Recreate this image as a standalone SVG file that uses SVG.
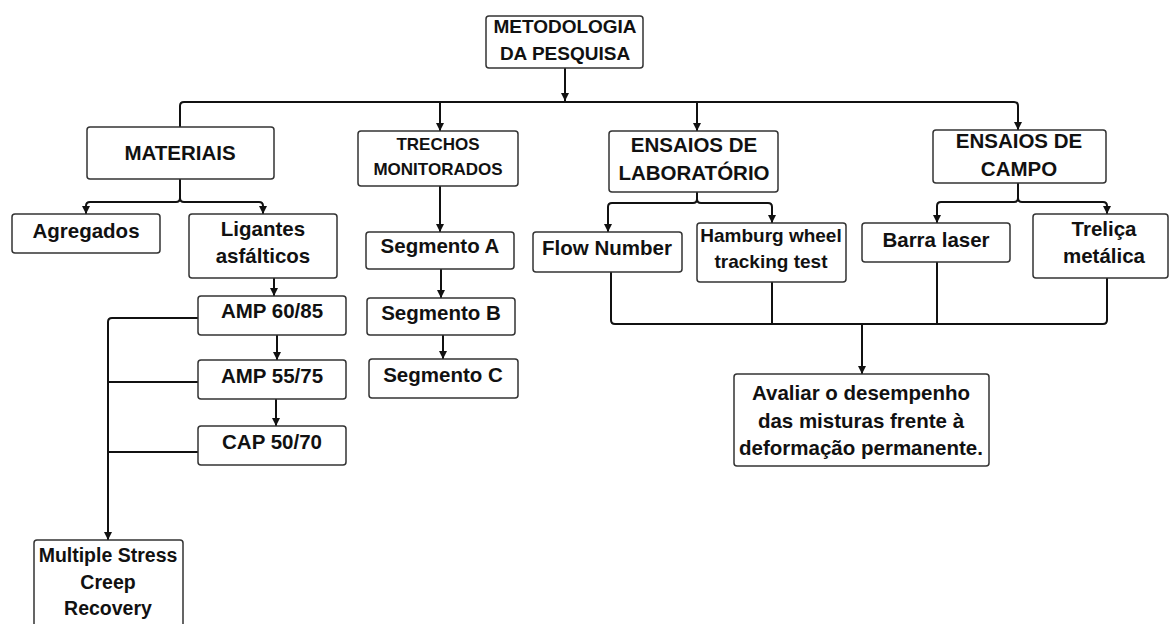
<svg xmlns="http://www.w3.org/2000/svg" width="1170" height="624" viewBox="0 0 1170 624">
<style>
.box{fill:#fff;stroke:#333;stroke-width:1.5}
.t{font-family:"Liberation Sans",Arial,sans-serif;font-weight:bold;font-size:20.5px;fill:#111;text-anchor:middle}
.c{fill:none;stroke:#111;stroke-width:2}
</style>
<defs>
<marker id="ah" markerUnits="userSpaceOnUse" markerWidth="9" markerHeight="9" refX="8" refY="4" orient="auto">
<path d="M0,0 L8,4 L0,8 z" fill="#111"/>
</marker>
</defs>
<rect width="1170" height="624" fill="#fff"/>
<g id="connectors">
<path class="c" d="M565,68 V101" marker-end="url(#ah)"/>
<path class="c" d="M180,127 V106 Q180,102 184,102 H1014 Q1018,102 1018,106 V130" marker-end="url(#ah)"/>
<path class="c" d="M440,102 V131" marker-end="url(#ah)"/>
<path class="c" d="M697,102 V131" marker-end="url(#ah)"/>
<path class="c" d="M180,179 V198 Q180,202 176,202 H90 Q86,202 86,206 V214" marker-end="url(#ah)"/>
<path class="c" d="M180,198 Q180,202 184,202 H259 Q263,202 263,206 V214" marker-end="url(#ah)"/>
<path class="c" d="M274,278 V296" marker-end="url(#ah)"/>
<path class="c" d="M277,335 V360" marker-end="url(#ah)"/>
<path class="c" d="M276,399 V426" marker-end="url(#ah)"/>
<path class="c" d="M198,318 H112 Q108,318 108,322 V540" marker-end="url(#ah)"/>
<path class="c" d="M198,382 H108"/>
<path class="c" d="M198,452 H108"/>
<path class="c" d="M440,186 V232" marker-end="url(#ah)"/>
<path class="c" d="M441,269 V298" marker-end="url(#ah)"/>
<path class="c" d="M443,335 V359" marker-end="url(#ah)"/>
<path class="c" d="M697,192 V199 Q697,203 693,203 H612 Q608,203 608,207 V232" marker-end="url(#ah)"/>
<path class="c" d="M697,199 Q697,203 701,203 H768 Q772,203 772,207 V223" marker-end="url(#ah)"/>
<path class="c" d="M1018,183 V198 Q1018,202 1014,202 H941 Q937,202 937,206 V223" marker-end="url(#ah)"/>
<path class="c" d="M1018,198 Q1018,202 1022,202 H1103 Q1107,202 1107,206 V214" marker-end="url(#ah)"/>
<path class="c" d="M611,272 V320 Q611,324 615,324 H1103 Q1107,324 1107,320 V278"/>
<path class="c" d="M772,282 V324"/>
<path class="c" d="M937,262 V324"/>
<path class="c" d="M862,324 V374" marker-end="url(#ah)"/>
</g>
<g id="metodologia"><rect class="box" x="486" y="16" width="157" height="52" rx="3"/><text class="t" x="565" y="33" style="font-size:19px">METODOLOGIA</text><text class="t" x="565" y="60" style="font-size:19px">DA PESQUISA</text></g>
<g id="materiais"><rect class="box" x="87" y="127" width="187" height="52" rx="3"/><text class="t" x="180" y="160">MATERIAIS</text></g>
<g id="trechos"><rect class="box" x="358" y="131" width="160" height="55" rx="3"/><text class="t" x="438" y="150" style="font-size:17px">TRECHOS</text><text class="t" x="438" y="175" style="font-size:17px">MONITORADOS</text></g>
<g id="lab"><rect class="box" x="609" y="131" width="169" height="61" rx="3"/><text class="t" x="694" y="152">ENSAIOS DE</text><text class="t" x="694" y="180">LABORATÓRIO</text></g>
<g id="campo"><rect class="box" x="933" y="130" width="173" height="53" rx="3"/><text class="t" x="1019" y="148">ENSAIOS DE</text><text class="t" x="1019" y="176">CAMPO</text></g>
<g id="agregados"><rect class="box" x="12" y="214" width="148" height="39" rx="3"/><text class="t" x="86" y="238">Agregados</text></g>
<g id="ligantes"><rect class="box" x="189" y="214" width="148" height="64" rx="3"/><text class="t" x="263" y="236">Ligantes</text><text class="t" x="263" y="263">asfálticos</text></g>
<g id="amp6085"><rect class="box" x="198" y="296" width="148" height="39" rx="3"/><text class="t" x="272" y="318">AMP 60/85</text></g>
<g id="amp5575"><rect class="box" x="198" y="360" width="148" height="39" rx="3"/><text class="t" x="272" y="383">AMP 55/75</text></g>
<g id="cap5070"><rect class="box" x="198" y="426" width="148" height="39" rx="3"/><text class="t" x="272" y="449">CAP 50/70</text></g>
<g id="mscr"><rect class="box" x="34" y="540" width="149" height="92" rx="3"/><text class="t" x="108" y="562" style="font-size:19.5px">Multiple Stress</text><text class="t" x="108" y="589" style="font-size:19.5px">Creep</text><text class="t" x="108" y="615" style="font-size:19.5px">Recovery</text></g>
<g id="segA"><rect class="box" x="366" y="232" width="148" height="37" rx="3"/><text class="t" x="440" y="253">Segmento A</text></g>
<g id="segB"><rect class="box" x="367" y="298" width="148" height="37" rx="3"/><text class="t" x="441" y="320">Segmento B</text></g>
<g id="segC"><rect class="box" x="369" y="359" width="149" height="39" rx="3"/><text class="t" x="443" y="382">Segmento C</text></g>
<g id="flow"><rect class="box" x="533" y="232" width="149" height="40" rx="3"/><text class="t" x="607" y="255">Flow Number</text></g>
<g id="hamburg"><rect class="box" x="697" y="223" width="149" height="59" rx="3"/><text class="t" x="771" y="242" style="font-size:19px">Hamburg wheel</text><text class="t" x="771" y="268" style="font-size:19px">tracking test</text></g>
<g id="barra"><rect class="box" x="862" y="223" width="148" height="39" rx="3"/><text class="t" x="936" y="247">Barra laser</text></g>
<g id="trelica"><rect class="box" x="1033" y="214" width="135" height="64" rx="3"/><text class="t" x="1104" y="236">Treliça</text><text class="t" x="1104" y="263">metálica</text></g>
<g id="avaliar"><rect class="box" x="734" y="374" width="255" height="92" rx="3"/><text class="t" x="861" y="400">Avaliar o desempenho</text><text class="t" x="861" y="428">das misturas frente à</text><text class="t" x="861" y="455">deformação permanente.</text></g>
</svg>
